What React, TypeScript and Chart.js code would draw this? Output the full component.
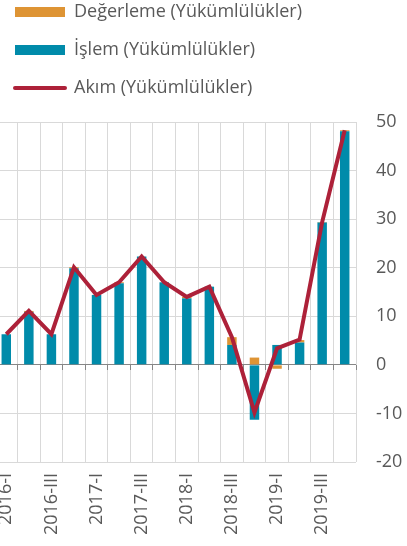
import React, { useEffect, useRef } from "react";
import { Chart, registerables } from "chart.js";

Chart.register(...registerables);

const categories = [
  "2016-I", "2016-II", "2016-III", "2016-IV",
  "2017-I", "2017-II", "2017-III", "2017-IV",
  "2018-I", "2018-II", "2018-III", "2018-IV",
  "2019-I", "2019-II", "2019-III", "2019-IV",
];
const degerleme = [0, 0.2, 0, 0.2, -0.1, 0.2, 0, 0, 0.3, 0, 1.6, 1.5, -0.8, 0.5, 0.1, 0.2];
const islem = [6.3, 10.9, 6.3, 19.9, 14.4, 16.8, 22.3, 17.0, 13.7, 16.1, 4.1, -11.3, 4.1, 4.6, 29.3, 48.1];
const akim = [6.3, 11.1, 6.3, 20.1, 14.4, 17.0, 22.3, 17.0, 14.0, 16.1, 5.7, -9.8, 3.4, 5.2, 29.4, 48.3];
const yTicks = { min: -20, max: 50, step: 10 };
const seriesNames = ["Değerleme (Yükümlülükler)", "İşlem (Yükümlülükler)", "Akım (Yükümlülükler)"];

const ORANGE = "#DE9434";
const TEAL = "#008BAA";
const RED = "#AD2139";
const TEXT = "#595959";
const GRID = "#D9D9D9";
const AXIS = "#868686";
const FONT = "'Open Sans', sans-serif";

const legendSpacer = {
  id: "legendSpacer",
  beforeInit(chart: any) {
    const lg = chart.legend;
    if (!lg) return;
    const orig = lg.fit;
    lg.fit = function () {
      orig.call(this);
      this.height += 15;
    };
  },
};

export default function App() {
  const ref = useRef<HTMLCanvasElement | null>(null);

  useEffect(() => {
    document.body.style.margin = "0";
    const canvas = ref.current;
    if (!canvas) return;
    const chart = new Chart(canvas, {
      type: "bar",
      data: {
        labels: categories,
        datasets: [
          {
            type: "bar",
            label: seriesNames[1],
            data: islem,
            backgroundColor: TEAL,
            stack: "bars",
            categoryPercentage: 1,
            barPercentage: 0.42,
          },
          {
            type: "bar",
            label: seriesNames[0],
            data: degerleme,
            backgroundColor: ORANGE,
            stack: "bars",
            categoryPercentage: 1,
            barPercentage: 0.42,
          },
          {
            type: "line",
            label: seriesNames[2],
            data: akim,
            borderColor: RED,
            backgroundColor: RED,
            borderWidth: 4,
            pointRadius: 0,
            tension: 0,
            fill: false,
            stack: "line",
            order: -1,
            borderJoinStyle: "miter",
          } as any,
        ],
      },
      plugins: [legendSpacer],
      options: {
        animation: false,
        responsive: false,
        layout: { padding: { left: 15, right: 5, top: 0, bottom: 4 } },
        plugins: {
          tooltip: { enabled: false },
          legend: {
            position: "top",
            align: "start",
            labels: {
              usePointStyle: true,
              pointStyleWidth: 50,
              boxHeight: 10,
              padding: 20,
              font: { family: FONT, size: 18 },
              color: TEXT,
              generateLabels: () => [
                { text: seriesNames[0], fillStyle: ORANGE, strokeStyle: ORANGE, lineWidth: 0, pointStyle: "rect", hidden: false, fontColor: TEXT, datasetIndex: 1 },
                { text: seriesNames[1], fillStyle: TEAL, strokeStyle: TEAL, lineWidth: 0, pointStyle: "rect", hidden: false, fontColor: TEXT, datasetIndex: 0 },
                { text: seriesNames[2], fillStyle: RED, strokeStyle: RED, lineWidth: 4, lineCap: "round", pointStyle: "line", hidden: false, fontColor: TEXT, datasetIndex: 2 },
              ] as any,
            },
          },
        },
        scales: {
          x: {
            type: "category",
            position: "bottom",
            stacked: true,
            offset: true,
            grid: { color: GRID, drawTicks: false, offset: true },
            border: { display: false },
            ticks: {
              autoSkip: false,
              maxRotation: 90,
              minRotation: 90,
              padding: 11,
              color: TEXT,
              font: { family: FONT, size: 18 },
              callback: (_v: any, i: number) => (i % 2 === 0 ? categories[i] : ""),
            },
            afterFit: (s: any) => { s.height = 80; },
          },
          x2: {
            type: "category",
            position: { y: 0 } as any,
            offset: true,
            grid: { drawOnChartArea: false, drawTicks: true, tickLength: 5, color: AXIS, offset: true },
            border: { display: false },
            ticks: { display: false },
          },
          y: {
            type: "linear",
            position: "right",
            stacked: true,
            min: yTicks.min,
            max: yTicks.max,
            grid: {
              drawTicks: false,
              color: (c: any) => (c.tick && c.tick.value === 0 ? AXIS : GRID),
            },
            border: { display: false },
            ticks: {
              stepSize: yTicks.step,
              padding: 20,
              color: TEXT,
              font: { family: FONT, size: 18 },
            },
            afterFit: (s: any) => { s.width = 46; },
          },
        },
      },
    });
    return () => chart.destroy();
  }, []);

  return (
    <div style={{ position: "absolute", left: 0, top: 0, width: 407, height: 546, overflow: "hidden", background: "#fff" }}>
      <div style={{ position: "absolute", left: -20, top: -17 }}>
        <canvas ref={ref} width={427} height={563} style={{ display: "block" }} />
      </div>
    </div>
  );
}
